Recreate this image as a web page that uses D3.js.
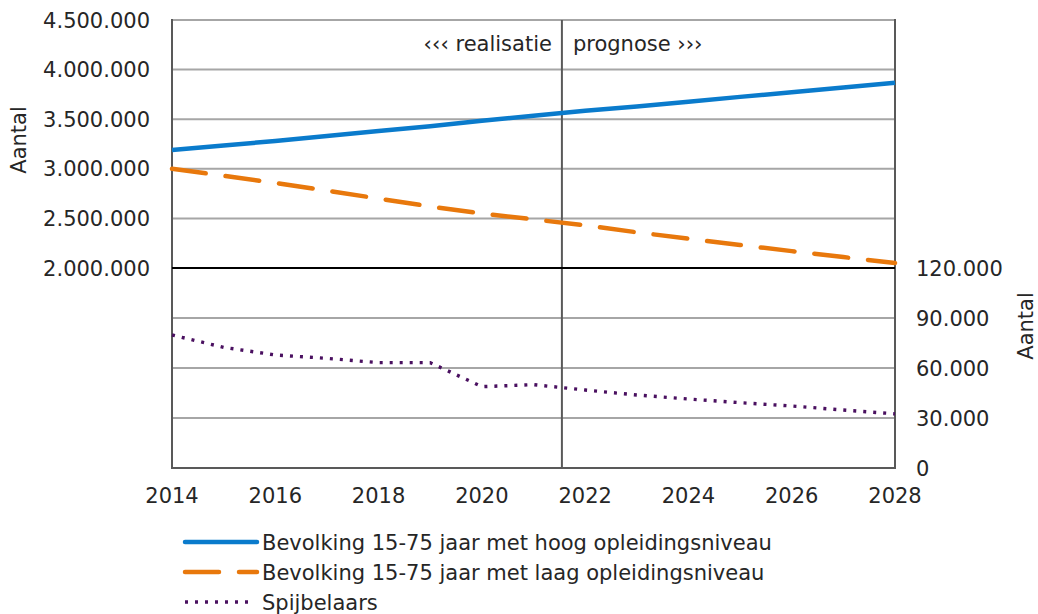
<!doctype html>
<html lang="nl">
<head>
  <meta charset="utf-8">
  <title>Bevolking en spijbelaars</title>
  <style>
    html, body {
      margin: 0;
      padding: 0;
      background: white;
    }
    svg text {
      font-family: 'DejaVu Sans', Verdana, sans-serif;
      fill: #262626;
    }
  </style>
</head>
<body>
  <div id="chart"></div>

  <script src="https://d3js.org/d3.v7.min.js"></script>
  <script>
    // data
    const years = [2014, 2015, 2016, 2017, 2018, 2019, 2020, 2021, 2022, 2023, 2024, 2025, 2026, 2027, 2028];
    const hoog = [3190000, 3235000, 3280000, 3330000, 3380000, 3430000, 3485000, 3535000, 3585000, 3628000, 3675000, 3725000, 3772000, 3820000, 3867000];
    const laag = [3000000, 2930000, 2857000, 2780000, 2700000, 2620000, 2550000, 2490000, 2430000, 2360000, 2295000, 2232000, 2170000, 2110000, 2050000];
    const spijbelaars = [79800, 72400, 67800, 65800, 63200, 63200, 48800, 50000, 46800, 43800, 41400, 39200, 37200, 34800, 32500];

    const leftTicks = [2000000, 2500000, 3000000, 3500000, 4000000, 4500000];
    const rightTicks = [0, 30000, 60000, 90000, 120000];
    const xTicks = [2014, 2016, 2018, 2020, 2022, 2024, 2026, 2028];
    const splitYear = 2021.55;

    const seriesNames = [
      "Bevolking 15-75 jaar met hoog opleidingsniveau",
      "Bevolking 15-75 jaar met laag opleidingsniveau",
      "Spijbelaars"
    ];

    const W = 1038, H = 614;
    const plotLeft = 172, plotRight = 895, plotTop = 20, plotMid = 268, plotBottom = 468;
    const fontSize = 21;

    const nl = d3.formatLocale({ decimal: ",", thousands: ".", grouping: [3], currency: ["€ ", ""] });
    const fmt = nl.format(",d");

    const x = d3.scaleLinear().domain([2014, 2028]).range([plotLeft, plotRight]);
    const yLeft = d3.scaleLinear().domain([2000000, 4500000]).range([plotMid, plotTop]);
    const yRight = d3.scaleLinear().domain([0, 120000]).range([plotBottom, plotMid]);

    const svg = d3.select("#chart")
      .append("svg")
      .attr("width", W)
      .attr("height", H);

    // gridlines
    svg.append("g")
      .selectAll("line")
      .data(leftTicks.filter(d => d !== 2000000))
      .join("line")
      .attr("x1", plotLeft).attr("x2", plotRight)
      .attr("y1", d => yLeft(d)).attr("y2", d => yLeft(d))
      .attr("stroke", "#a6a6a6").attr("stroke-width", 2);

    svg.append("g")
      .selectAll("line")
      .data(rightTicks.filter(d => d !== 0 && d !== 120000))
      .join("line")
      .attr("x1", plotLeft).attr("x2", plotRight)
      .attr("y1", d => yRight(d)).attr("y2", d => yRight(d))
      .attr("stroke", "#a6a6a6").attr("stroke-width", 2);

    // frame
    svg.append("line")
      .attr("x1", plotLeft).attr("x2", plotRight).attr("y1", plotBottom).attr("y2", plotBottom)
      .attr("stroke", "#595959").attr("stroke-width", 2);
    svg.append("line")
      .attr("x1", plotLeft).attr("x2", plotLeft).attr("y1", plotTop - 1).attr("y2", plotBottom + 1)
      .attr("stroke", "#595959").attr("stroke-width", 2);
    svg.append("line")
      .attr("x1", plotRight).attr("x2", plotRight).attr("y1", plotTop - 1).attr("y2", plotBottom + 1)
      .attr("stroke", "#595959").attr("stroke-width", 2);
    svg.append("line")
      .attr("x1", x(splitYear)).attr("x2", x(splitYear)).attr("y1", plotTop).attr("y2", plotBottom)
      .attr("stroke", "#595959").attr("stroke-width", 2);
    svg.append("line")
      .attr("x1", plotLeft).attr("x2", plotRight).attr("y1", plotMid).attr("y2", plotMid)
      .attr("stroke", "#000").attr("stroke-width", 2);

    // series
    const lineLeft = d3.line().x((d, i) => x(years[i])).y(d => yLeft(d));
    const lineRight = d3.line().x((d, i) => x(years[i])).y(d => yRight(d));

    const styles = [
      { color: "#0a7bcc", width: 4.5, dash: null, cap: "round" },
      { color: "#e8780c", width: 4.5, dash: "34,20", cap: "round" },
      { color: "#4a1060", width: 3.4, dash: "3,7", cap: "butt" }
    ];

    svg.append("path")
      .attr("d", lineRight(spijbelaars))
      .attr("fill", "none")
      .attr("stroke", styles[2].color)
      .attr("stroke-width", styles[2].width)
      .attr("stroke-dasharray", styles[2].dash);

    svg.append("path")
      .attr("d", lineLeft(laag))
      .attr("fill", "none")
      .attr("stroke", styles[1].color)
      .attr("stroke-width", styles[1].width)
      .attr("stroke-linecap", "round")
      .attr("stroke-dasharray", styles[1].dash);

    svg.append("path")
      .attr("d", lineLeft(hoog))
      .attr("fill", "none")
      .attr("stroke", styles[0].color)
      .attr("stroke-width", styles[0].width);

    // axis labels
    svg.append("g")
      .selectAll("text")
      .data(leftTicks)
      .join("text")
      .attr("x", 150)
      .attr("y", d => yLeft(d))
      .attr("dy", "0.36em")
      .attr("text-anchor", "end")
      .attr("font-size", fontSize)
      .text(d => fmt(d));

    svg.append("g")
      .selectAll("text")
      .data(rightTicks)
      .join("text")
      .attr("x", 916)
      .attr("y", d => yRight(d))
      .attr("dy", "0.36em")
      .attr("font-size", fontSize)
      .text(d => fmt(d));

    svg.append("g")
      .selectAll("text")
      .data(xTicks)
      .join("text")
      .attr("x", d => x(d))
      .attr("y", 503)
      .attr("text-anchor", "middle")
      .attr("font-size", fontSize)
      .text(d => d);

    svg.append("text")
      .attr("transform", "translate(26,140) rotate(-90)")
      .attr("text-anchor", "middle")
      .attr("font-size", fontSize)
      .text("Aantal");

    svg.append("text")
      .attr("transform", "translate(1033,326) rotate(-90)")
      .attr("text-anchor", "middle")
      .attr("font-size", fontSize)
      .text("Aantal");

    svg.append("text")
      .attr("x", x(splitYear) - 10).attr("y", 51)
      .attr("text-anchor", "end")
      .attr("font-size", fontSize)
      .text("‹‹‹ realisatie");

    svg.append("text")
      .attr("x", x(splitYear) + 11).attr("y", 51)
      .attr("font-size", fontSize)
      .text("prognose ›››");

    // legend
    const legend = svg.append("g")
      .selectAll("g")
      .data(seriesNames)
      .join("g")
      .attr("transform", (d, i) => `translate(185,${542 + i * 30})`);

    legend.append("line")
      .attr("x1", 0).attr("x2", (d, i) => i === 2 ? 64 : 72)
      .attr("stroke", (d, i) => styles[i].color)
      .attr("stroke-width", (d, i) => styles[i].width)
      .attr("stroke-linecap", (d, i) => styles[i].cap)
      .attr("stroke-dasharray", (d, i) => styles[i].dash);

    legend.append("text")
      .attr("x", 77)
      .attr("dy", "0.36em")
      .attr("font-size", fontSize)
      .text(d => d);
  </script>
</body>
</html>
